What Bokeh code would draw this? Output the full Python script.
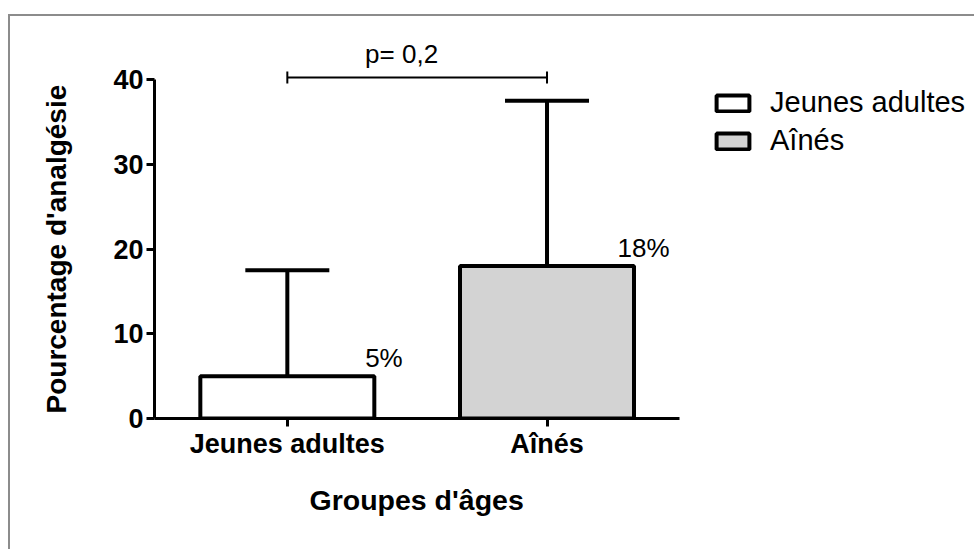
from bokeh.plotting import figure
from bokeh.models import (ColumnDataSource, Whisker, TeeHead, Legend, LegendItem,
                          FixedTicker, Range1d, Title)
from bokeh.core.properties import value
from bokeh.embed import file_html
from bokeh.resources import INLINE

# ---- data ----
categories = ["Jeunes adultes", "Aînés"]
positions = [1, 2]
means = [5, 18]
upper_err = [17.5, 37.5]
value_labels = ["5%", "18%"]
bar_colors = ["#ffffff", "#d3d3d3"]
y_ticks = [0, 10, 20, 30, 40]
p_label = "p= 0,2"
p_level = 40.25
x_title = "Groupes d'âges"
y_title = "Pourcentage d'analgésie"

FONT = "Liberation Sans"

src = ColumnDataSource(dict(x=positions, top=means, upper=upper_err,
                            color=bar_colors, cat=categories,
                            lx=[x + 0.372 for x in positions],
                            ly=[m + 0.35 for m in means], lbl=value_labels))

p = figure(width=974, height=549, output_backend="svg", toolbar_location=None,
           x_range=Range1d(0.4885, 3.6462), y_range=Range1d(0, 44.84),
           min_border_left=153, min_border_bottom=131, min_border_top=38,
           min_border_right=0)
p.outline_line_color = None
p.grid.visible = False
p.background_fill_color = "white"
p.border_fill_color = None
p.styles = {
    "background-image": "linear-gradient(#8c8c8c,#8c8c8c), linear-gradient(#8c8c8c,#8c8c8c)",
    "background-size": "100% 2px, 2px 100%",
    "background-position": "8px 14px, 8px 14px",
    "background-repeat": "no-repeat",
}

bars = p.vbar(x="x", top="top", bottom=0, width=0.67, source=src,
              fill_color="color", line_color="black", line_width=4)

err = Whisker(source=src, base="x", lower="top", upper="upper",
              line_width=4, line_color="black",
              upper_head=TeeHead(size=84, line_width=4, line_color="black"),
              lower_head=None)
p.add_layout(err)

p.text(x="lx", y="ly", text="lbl", source=src, text_align="center",
       text_baseline="bottom", text_font=value(FONT), text_font_size="26px",
       text_color="black")

# significance bracket
bsrc = ColumnDataSource(dict(y=[p_level], lo=[positions[0]], hi=[positions[1]]))
br = Whisker(source=bsrc, base="y", lower="lo", upper="hi", dimension="width",
             line_width=2, line_color="black",
             upper_head=TeeHead(size=12, line_width=2, line_color="black"),
             lower_head=TeeHead(size=12, line_width=2, line_color="black"))
p.add_layout(br)
p.text(x=[1.44], y=[p_level + 0.95], text=[p_label],
       text_align="center", text_baseline="bottom", text_font=value(FONT),
       text_font_size="26px", text_color="black")

# axes
for ax in (p.xaxis[0], p.yaxis[0]):
    ax.axis_line_width = 3
    ax.axis_line_color = "black"
    ax.major_tick_line_width = 3
    ax.major_tick_line_color = "black"
    ax.major_tick_out = 8
    ax.major_tick_in = 0
    ax.minor_tick_line_color = None
    ax.major_label_text_font = FONT
    ax.major_label_text_font_style = "bold"
    ax.major_label_text_font_size = "27px"
    ax.major_label_text_color = "black"

p.yaxis.ticker = FixedTicker(ticks=y_ticks)
p.yaxis.bounds = (0, 40)
p.yaxis.major_label_standoff = 3

p.xaxis.ticker = FixedTicker(ticks=positions)
p.xaxis.major_label_overrides = {x: c for x, c in zip(positions, categories)}
p.xaxis.bounds = (0.4885, 2.5115)
p.xaxis.major_label_standoff = 2

# axis titles (centred on the drawn axis extents, not on the whole frame)
p.add_layout(Title(text=x_title, align="left", offset=155, standoff=41,
                   text_font=FONT, text_font_style="bold",
                   text_font_size="28.5px", text_color="black"), "below")
p.add_layout(Title(text=y_title, align="left", offset=5, standoff=77,
                   text_font=FONT, text_font_style="bold",
                   text_font_size="28px", text_color="black"), "left")

legend = Legend(items=[LegendItem(label=c, renderers=[bars], index=i)
                       for i, c in enumerate(categories)],
                location=(558, 261), padding=0, margin=0,
                border_line_color=None, background_fill_alpha=0,
                glyph_width=41, glyph_height=20, label_height=30, spacing=5,
                label_standoff=17, label_text_font=FONT,
                label_text_font_size="29px", label_text_color="black")
p.add_layout(legend)

open("out.html", "w").write(file_html(p, INLINE))
